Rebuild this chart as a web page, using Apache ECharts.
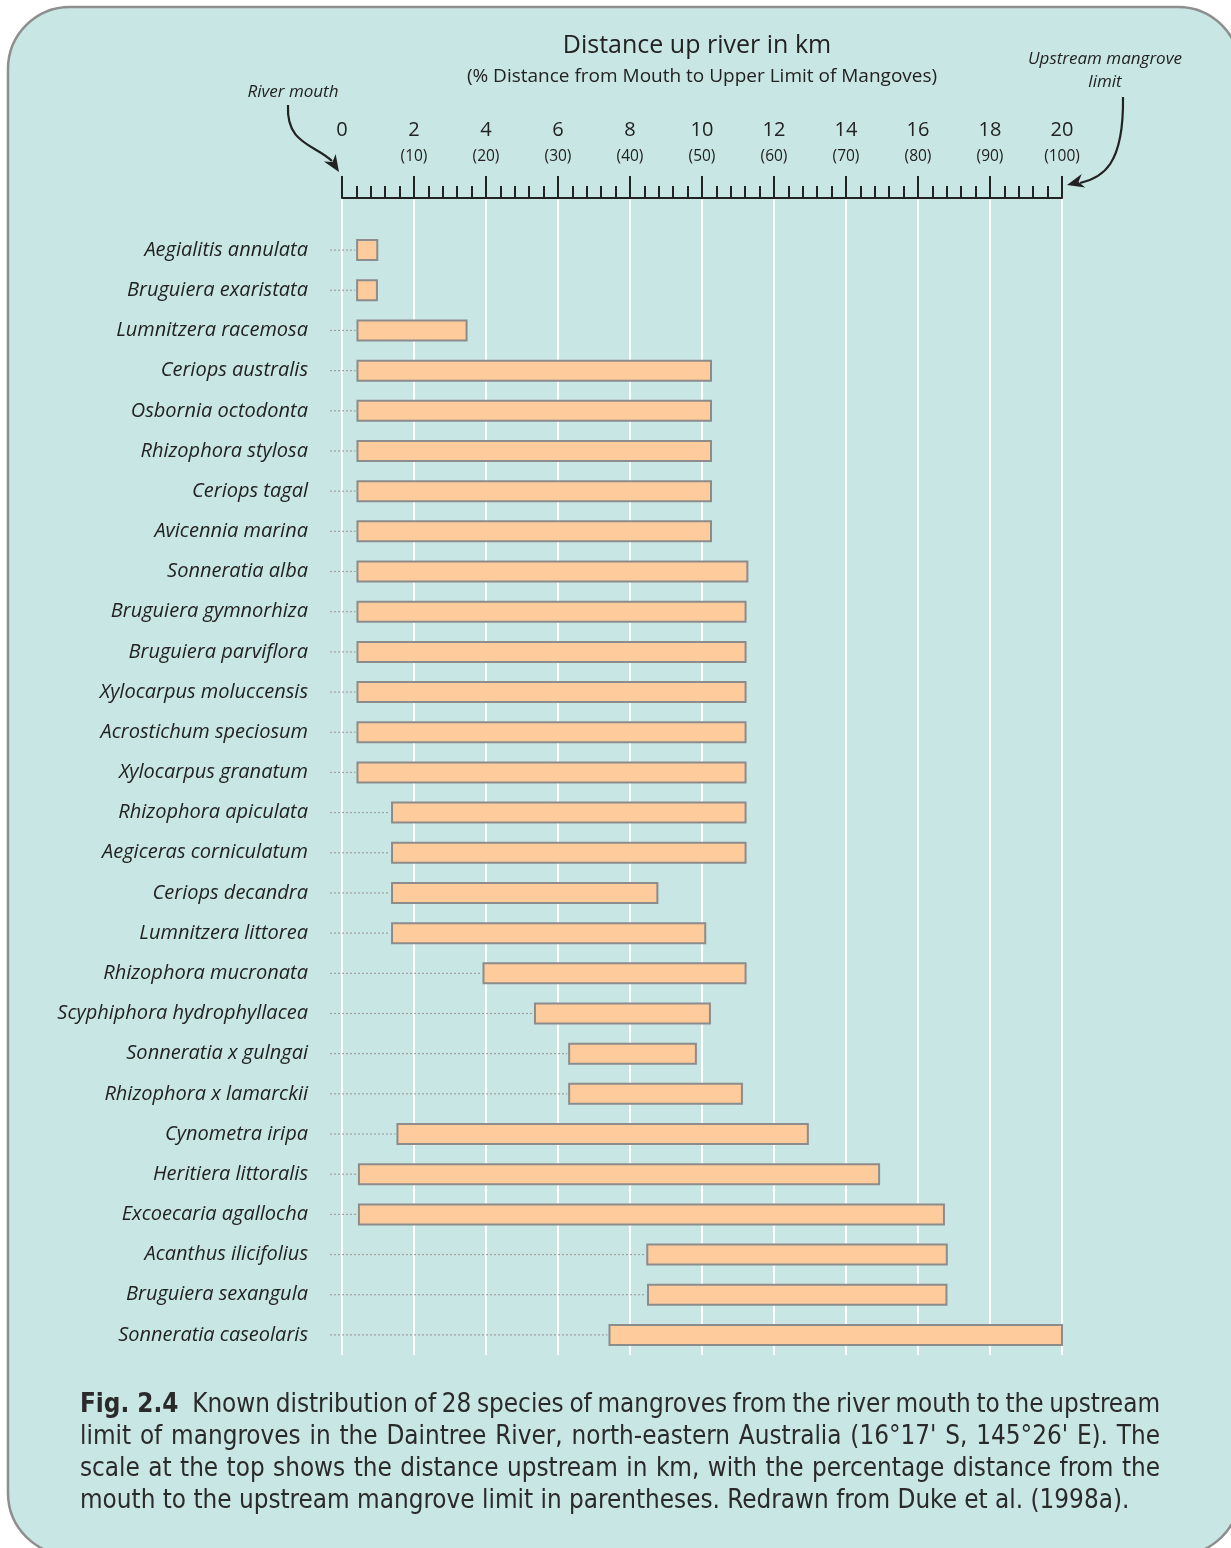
<!DOCTYPE html>
<html>
<head>
<meta charset="utf-8">
<script src="https://cdn.jsdelivr.net/npm/echarts@6/dist/echarts.min.js"></script>
<style>
  html, body { margin: 0; padding: 0; background: #fff; }
  #main { width: 1231px; height: 1548px; }
</style>
</head>
<body>
<div id="main"></div>
<script>
// species in order, top to bottom
const species = [
  'Aegialitis annulata', 'Bruguiera exaristata', 'Lumnitzera racemosa', 'Ceriops australis',
  'Osbornia octodonta', 'Rhizophora stylosa', 'Ceriops tagal', 'Avicennia marina',
  'Sonneratia alba', 'Bruguiera gymnorhiza', 'Bruguiera parviflora', 'Xylocarpus moluccensis',
  'Acrostichum speciosum', 'Xylocarpus granatum', 'Rhizophora apiculata', 'Aegiceras corniculatum',
  'Ceriops decandra', 'Lumnitzera littorea', 'Rhizophora mucronata', 'Scyphiphora hydrophyllacea',
  'Sonneratia x gulngai', 'Rhizophora x lamarckii', 'Cynometra iripa', 'Heritiera littoralis',
  'Excoecaria agallocha', 'Acanthus ilicifolius', 'Bruguiera sexangula', 'Sonneratia caseolaris'
];
// km from river mouth (lower / upper limit)
const startKm = [
  0.42, 0.42, 0.43, 0.43, 0.43, 0.43, 0.43, 0.43,
  0.43, 0.43, 0.43, 0.43, 0.43, 0.43, 1.39, 1.39,
  1.39, 1.39, 3.93, 5.36, 6.31, 6.31, 1.54, 0.47,
  0.47, 8.48, 8.50, 7.43
];
const endKm = [
  0.98, 0.97, 3.46, 10.25, 10.25, 10.25, 10.25, 10.25,
  11.26, 11.21, 11.21, 11.21, 11.21, 11.21, 11.21, 11.21,
  8.76, 10.09, 11.21, 10.22, 9.83, 11.11, 12.94, 14.92,
  16.72, 16.80, 16.79, 20.0
];
const kmTicks = [0, 2, 4, 6, 8, 10, 12, 14, 16, 18, 20];
const pctLabels = ['', '(10)', '(20)', '(30)', '(40)', '(50)', '(60)', '(70)', '(80)', '(90)', '(100)'];

const captionLines = [
  'Known distribution of 28 species of mangroves from the river mouth to the upstream',
  'limit of mangroves in the Daintree River, north-eastern Australia (16°17\' S, 145°26\' E). The',
  'scale at the top shows the distance upstream in km, with the percentage distance from the',
  'mouth to the upstream mangrove limit in parentheses. Redrawn from Duke et al. (1998a).'
];

const chart = echarts.init(document.getElementById('main'));

const BG = '#c8e6e3';
const INK = '#222';
const CAP_FONT = "'Liberation Sans Narrow', 'DejaVu Sans Condensed', sans-serif";

// caption: pick a size so the last line is as wide as in the print, justify the others
const ctx = document.createElement('canvas').getContext('2d');
let capSize = 24;
function measure(txt, weight) {
  ctx.font = (weight || 'normal') + ' ' + capSize + 'px ' + CAP_FONT;
  return ctx.measureText(txt).width;
}
capSize = Math.min(27, 24 * 1050 / measure(captionLines[3]));
const capLeft = 80, capRight = 1160, capTop = 1405, capStep = 32;
const captionEls = [];
captionLines.forEach(function (line, li) {
  let items = line.split(' ').map(w => ({ text: w, weight: 'normal' }));
  if (li === 0) {
    items.unshift({ text: 'Fig. 2.4', weight: 'bold', extra: 8 });
  }
  let total = 0;
  items.forEach(it => { it.w = measure(it.text, it.weight); total += it.w + (it.extra || 0); });
  let gap = li === captionLines.length - 1
    ? measure(' ')
    : (capRight - capLeft - total) / (items.length - 1);
  let x = capLeft;
  items.forEach(it => {
    captionEls.push({
      type: 'text', x: x, y: capTop + li * capStep,
      style: {
        text: it.text, font: it.weight + ' ' + capSize + 'px ' + CAP_FONT,
        fill: '#2a2a2a', textVerticalAlign: 'middle'
      }
    });
    x += it.w + (it.extra || 0) + gap;
  });
});

function arrowHead(tip, dir, len, half) {
  let n = Math.hypot(dir[0], dir[1]);
  let d = [dir[0] / n, dir[1] / n];
  let p = [-d[1], d[0]];
  let b = [tip[0] - d[0] * len, tip[1] - d[1] * len];
  let inner = [tip[0] - d[0] * len * 0.7, tip[1] - d[1] * len * 0.7];
  return [tip, [b[0] + p[0] * half, b[1] + p[1] * half], inner, [b[0] - p[0] * half, b[1] - p[1] * half]];
}

const option = {
  backgroundColor: '#fff',
  animation: false,
  graphic: {
    elements: [
      {
        type: 'rect', z: -100,
        shape: { x: 8, y: 7, width: 1232, height: 1548, r: 62 },
        style: { fill: BG, stroke: '#8e8e8e', lineWidth: 2.5 }
      },
      {
        type: 'text', x: 697, y: 46,
        style: { text: 'Distance up river in km', font: "25px 'Open Sans'", fill: INK, textAlign: 'center', textVerticalAlign: 'middle' }
      },
      {
        type: 'text', x: 702, y: 77,
        style: { text: '(% Distance from Mouth to Upper Limit of Mangoves)', font: "19px 'Open Sans'", fill: INK, textAlign: 'center', textVerticalAlign: 'middle' }
      },
      {
        type: 'text', x: 293, y: 92,
        style: { text: 'River mouth', font: "italic 17px 'Open Sans'", fill: INK, textAlign: 'center', textVerticalAlign: 'middle' }
      },
      {
        type: 'text', x: 1105, y: 59,
        style: { text: 'Upstream mangrove', font: "italic 17px 'Open Sans'", fill: INK, textAlign: 'center', textVerticalAlign: 'middle' }
      },
      {
        type: 'text', x: 1105, y: 82,
        style: { text: 'limit', font: "italic 17px 'Open Sans'", fill: INK, textAlign: 'center', textVerticalAlign: 'middle' }
      },
      {
        type: 'bezierCurve',
        shape: { x1: 288, y1: 105, cpx1: 286, cpy1: 144, cpx2: 314, cpy2: 144, x2: 332, y2: 161 },
        style: { stroke: INK, lineWidth: 2.2, fill: null }
      },
      {
        type: 'polygon',
        shape: { points: arrowHead([339, 172], [0.55, 0.85], 17, 7) },
        style: { fill: INK }
      },
      {
        type: 'bezierCurve',
        shape: { x1: 1123, y1: 97, cpx1: 1124, cpy1: 166, cpx2: 1102, cpy2: 178, x2: 1080, y2: 183 },
        style: { stroke: INK, lineWidth: 2.2, fill: null }
      },
      {
        type: 'polygon',
        shape: { points: arrowHead([1067, 185], [-0.96, 0.25], 17, 7) },
        style: { fill: INK }
      }
    ].concat(captionEls)
  },
  grid: [
    { left: 342, right: 169, top: 198, bottom: 193 },
    { left: 342, right: 169, top: 230, height: 1125 }
  ],
  xAxis: [
    {
      gridIndex: 0, type: 'value', position: 'top', min: 0, max: 20, interval: 2,
      axisLine: { show: true, onZero: false, lineStyle: { color: INK, width: 2 } },
      axisTick: { show: true, length: 22, lineStyle: { color: INK, width: 2 } },
      minorTick: { show: true, splitNumber: 5, length: 12, lineStyle: { color: INK, width: 2 } },
      splitLine: { show: true, lineStyle: { color: '#fff', width: 2 } },
      axisLabel: {
        margin: 28,
        formatter: function (v) {
          let i = kmTicks.indexOf(v);
          return '{a|' + v + '}\n{b|' + (pctLabels[i] || ' ') + '}';
        },
        rich: {
          a: { fontSize: 20, lineHeight: 28, color: INK, fontFamily: 'Open Sans' },
          b: { fontSize: 15.5, lineHeight: 26, color: INK, fontFamily: 'Open Sans' }
        }
      }
    },
    { gridIndex: 1, type: 'value', min: 0, max: 20, show: false }
  ],
  yAxis: [
    { gridIndex: 0, type: 'value', show: false },
    {
      gridIndex: 1, type: 'category', data: species, inverse: true,
      axisLine: { show: false }, axisTick: { show: false },
      axisLabel: { margin: 34, fontStyle: 'italic', fontSize: 20, color: INK, fontFamily: 'Open Sans' }
    }
  ],
  series: [
    {
      type: 'custom',
      xAxisIndex: 1, yAxisIndex: 1,
      encode: { x: [1, 2], y: 0 },
      data: species.map((s, i) => [i, startKm[i], endKm[i]]),
      renderItem: function (params, api) {
        let idx = api.value(0);
        let s = api.coord([api.value(1), idx]);
        let e = api.coord([api.value(2), idx]);
        let zero = api.coord([0, idx]);
        let h = 20;
        return {
          type: 'group',
          children: [
            {
              type: 'line',
              shape: { x1: zero[0] - 12, y1: s[1], x2: s[0] - 2, y2: s[1] },
              style: { stroke: '#a0a0a0', lineWidth: 1.2, lineDash: [2, 2] }
            },
            {
              type: 'rect',
              shape: { x: s[0], y: s[1] - h / 2, width: e[0] - s[0], height: h },
              style: { fill: '#fecb9c', stroke: '#8c8c8c', lineWidth: 2 }
            }
          ]
        };
      }
    }
  ]
};

chart.setOption(option);
</script>
</body>
</html>
